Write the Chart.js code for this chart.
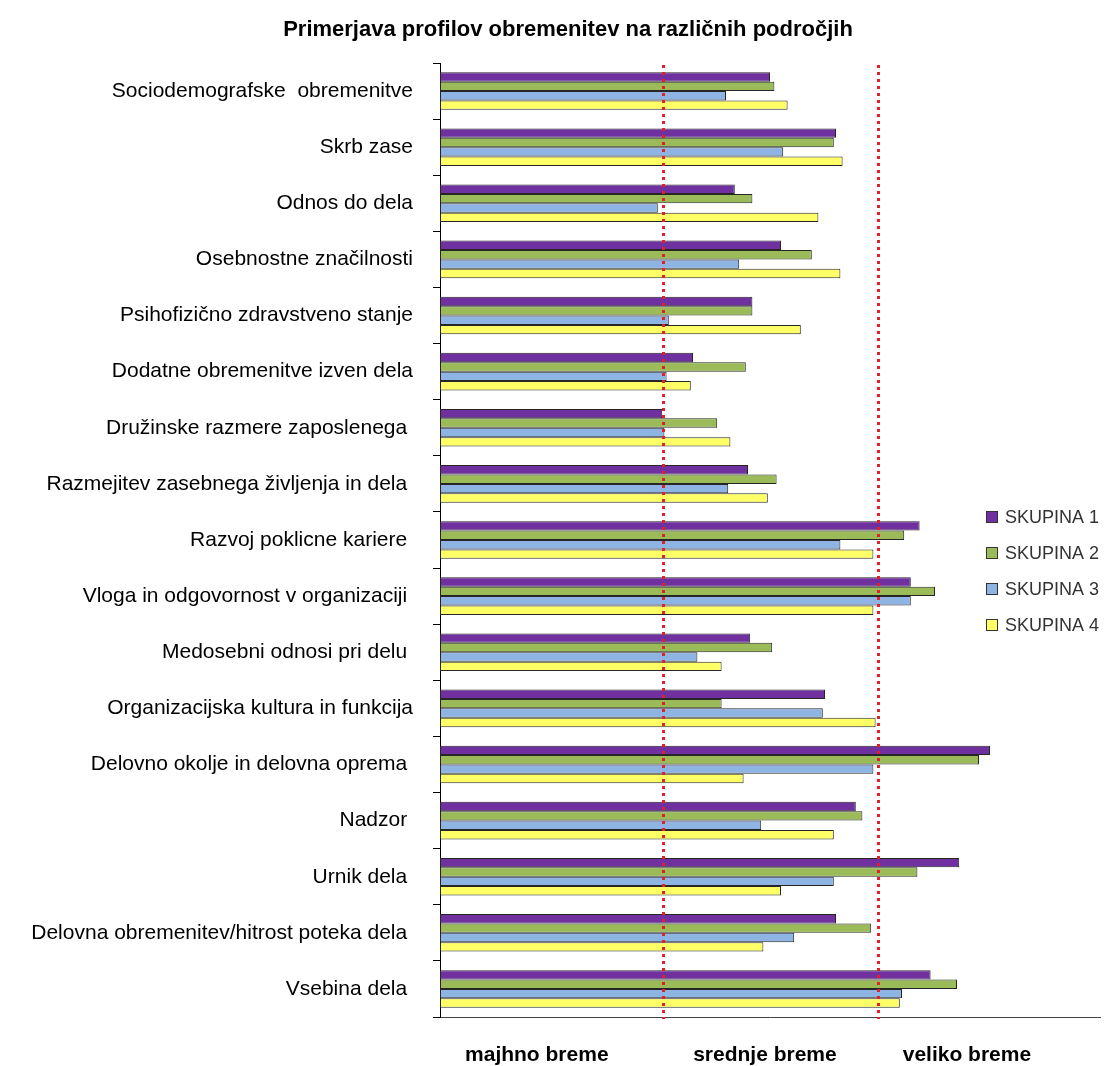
<!DOCTYPE html>
<html><head><meta charset="utf-8">
<script src="https://cdn.jsdelivr.net/npm/chart.js@4"></script>
<style>html,body{margin:0;padding:0;background:#fff;overflow:hidden;}</style>
</head><body>
<canvas id="c" width="1113" height="1066" style="width:1113px;height:1066px;display:block"></canvas>
<script>
const chartTitle = 'Primerjava profilov obremenitev na različnih področjih';
const categories = [
  'Sociodemografske  obremenitve',
  'Skrb zase',
  'Odnos do dela',
  'Osebnostne značilnosti',
  'Psihofizično zdravstveno stanje',
  'Dodatne obremenitve izven dela',
  'Družinske razmere zaposlenega ',
  'Razmejitev zasebnega življenja in dela ',
  'Razvoj poklicne kariere ',
  'Vloga in odgovornost v organizaciji ',
  'Medosebni odnosi pri delu ',
  'Organizacijska kultura in funkcija',
  'Delovno okolje in delovna oprema ',
  'Nadzor ',
  'Urnik dela ',
  'Delovna obremenitev/hitrost poteka dela ',
  'Vsebina dela '
];
const seriesNames = ['SKUPINA 1', 'SKUPINA 2', 'SKUPINA 3', 'SKUPINA 4'];
const skupina1 = [1.50, 1.80, 1.34, 1.55, 1.42, 1.15, 1.01, 1.40, 2.18, 2.14, 1.41, 1.75, 2.50, 1.89, 2.36, 1.80, 2.23];
const skupina2 = [1.52, 1.79, 1.42, 1.69, 1.42, 1.39, 1.26, 1.53, 2.11, 2.25, 1.51, 1.28, 2.45, 1.92, 2.17, 1.96, 2.35];
const skupina3 = [1.30, 1.56, 0.99, 1.36, 1.04, 1.03, 1.02, 1.31, 1.82, 2.14, 1.17, 1.74, 1.97, 1.46, 1.79, 1.61, 2.10];
const skupina4 = [1.58, 1.83, 1.72, 1.82, 1.64, 1.14, 1.32, 1.49, 1.97, 1.97, 1.28, 1.98, 1.38, 1.79, 1.55, 1.47, 2.09];
const seriesColors = ['#7030A0', '#9BBB59', '#8DB4E2', '#FFFF66'];
const thresholds = [1.014, 1.99];
const zoneLabels = ['majhno breme', 'srednje breme', 'veliko breme'];
const zonePositions = [0.44, 1.477, 2.395];

const FONT = "'Liberation Sans', Arial, sans-serif";
const seriesData = [skupina1, skupina2, skupina3, skupina4];

const thresholdPlugin = {
  id: 'thresholds',
  afterDatasetsDraw(chart) {
    const {ctx, chartArea, scales} = chart;
    ctx.save();
    ctx.strokeStyle = '#E0202A';
    ctx.lineWidth = 3;
    ctx.setLineDash([3, 4]);
    thresholds.forEach(v => {
      const x = Math.round(scales.x.getPixelForValue(v)) + 0.5;
      ctx.beginPath();
      ctx.moveTo(x, chartArea.top + 2);
      ctx.lineTo(x, chartArea.bottom + 2);
      ctx.stroke();
    });
    ctx.restore();
  }
};

const overlayPlugin = {
  id: 'overlay',
  afterDraw(chart) {
    const ctx = chart.ctx;
    ctx.save();
    ctx.fillStyle = '#000';
    ctx.font = 'bold 22px ' + FONT;
    ctx.textAlign = 'center';
    ctx.textBaseline = 'middle';
    ctx.fillText(chartTitle, 568, 30);
    // legend
    ctx.font = '18px ' + FONT;
    ctx.textAlign = 'left';
    chart.data.datasets.forEach((ds, i) => {
      const cy = 517 + i * 36;
      ctx.fillStyle = ds.backgroundColor;
      ctx.fillRect(986, cy - 6, 12, 12);
      ctx.strokeStyle = '#333';
      ctx.lineWidth = 1;
      ctx.strokeRect(986.5, cy - 5.5, 11, 11);
      ctx.fillStyle = '#333';
      ctx.fillText(ds.label, 1005, cy + 1);
    });
    ctx.restore();
  }
};

new Chart(document.getElementById('c'), {
  type: 'bar',
  data: {
    labels: categories,
    datasets: seriesData.map((d, i) => ({
      label: seriesNames[i],
      data: d,
      backgroundColor: seriesColors[i],
      borderColor: '#262626',
      borderWidth: 1,
      borderSkipped: false,
      barPercentage: 1.0,
      categoryPercentage: 0.67
    }))
  },
  options: {
    indexAxis: 'y',
    responsive: false,
    animation: false,
    devicePixelRatio: 1,
    layout: { padding: { left: 0, right: 13, top: 63, bottom: 0 } },
    plugins: {
      legend: { display: false },
      title: { display: false },
      tooltip: { enabled: false }
    },
    scales: {
      x: {
        type: 'linear',
        min: 0,
        max: 3,
        afterBuildTicks: (s) => { s.ticks = zonePositions.map(v => ({ value: v })); },
        afterFit: (s) => { s.height = 49; },
        grid: { display: false, drawTicks: false },
        border: { display: true, color: '#444', width: 1 },
        ticks: {
          autoSkip: false,
          maxRotation: 0,
          padding: 26,
          color: '#000',
          font: { family: FONT, size: 21, weight: 'bold' },
          callback: (v, i) => zoneLabels[i]
        }
      },
      y: {
        type: 'category',
        offset: true,
        afterFit: (s) => { s.width = 440; },
        grid: {
          offset: true,
          drawOnChartArea: false,
          drawTicks: true,
          tickLength: 7,
          color: '#000',
          lineWidth: 1
        },
        border: { display: true, color: '#000', width: 1 },
        ticks: {
          autoSkip: false,
          padding: 20,
          color: '#000',
          font: { family: FONT, size: 21 }
        }
      }
    }
  },
  plugins: [thresholdPlugin, overlayPlugin]
});
</script>
</body></html>
